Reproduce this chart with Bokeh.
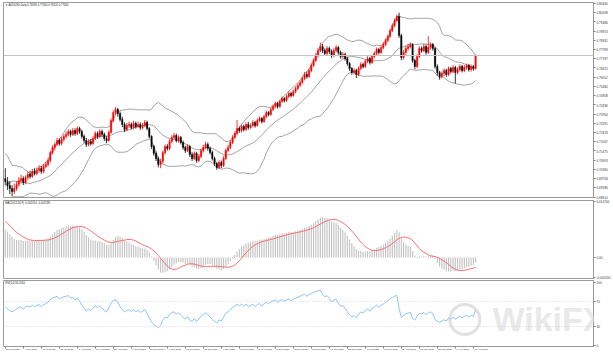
import numpy as np
import pandas as pd
from bokeh.plotting import figure
from bokeh.layouts import column
from bokeh.models import Range1d, LinearAxis, FixedTicker, Span, Label, ColumnDataSource, PrintfTickFormatter
from bokeh.embed import file_html
from bokeh.resources import INLINE

symbol = "AUDUSD,Daily"

# closes before the first visible bar (used only to start the indicators)
warmup_close = [0.6452, 0.6490, 0.6414, 0.6452, 0.6443, 0.6424, 0.6367, 0.6433, 0.6452, 0.6462,
                0.6528, 0.6538, 0.6614, 0.6585, 0.6519, 0.6538, 0.6547, 0.6509, 0.6576, 0.6604,
                0.6566, 0.6528, 0.6500, 0.6528, 0.6490, 0.6623, 0.6642, 0.6661, 0.6633, 0.6614,
                0.6642, 0.6709, 0.6699, 0.6699, 0.6737, 0.6889, 0.6975, 0.7013, 0.6984, 0.7013,
                0.7051, 0.7032, 0.7051, 0.6918, 0.6927, 0.6956, 0.6946, 0.6927, 0.6908, 0.6918,
                0.6975]

open_ = [0.6975, 0.6958, 0.6933, 0.6914, 0.6896, 0.6914, 0.6939, 0.6964, 0.6976, 0.6951,
         0.6982, 0.7001, 0.6989, 0.7020, 0.7007, 0.7026, 0.7038, 0.7020, 0.7051, 0.7063,
         0.7088, 0.7138, 0.7169, 0.7188, 0.7212, 0.7194, 0.7219, 0.7237, 0.7250, 0.7268,
         0.7250, 0.7274, 0.7256, 0.7287, 0.7268, 0.7237, 0.7212, 0.7188, 0.7206, 0.7194,
         0.7225, 0.7256, 0.7237, 0.7268, 0.7250, 0.7225, 0.7212, 0.7262, 0.7336, 0.7386,
         0.7405, 0.7380, 0.7343, 0.7312, 0.7281, 0.7305, 0.7312, 0.7293, 0.7318, 0.7299,
         0.7312, 0.7293, 0.7305, 0.7324, 0.7287, 0.7237, 0.7175, 0.7132, 0.7100, 0.7063,
         0.7082, 0.7138, 0.7175, 0.7163, 0.7206, 0.7231, 0.7243, 0.7212, 0.7231, 0.7200,
         0.7169, 0.7150, 0.7175, 0.7125, 0.7100, 0.7132, 0.7088, 0.7113, 0.7150, 0.7169,
         0.7188, 0.7163, 0.7138, 0.7100, 0.7069, 0.7045, 0.7076, 0.7057, 0.7100, 0.7150,
         0.7169, 0.7200, 0.7231, 0.7256, 0.7287, 0.7274, 0.7299, 0.7281, 0.7312, 0.7293,
         0.7305, 0.7324, 0.7305, 0.7336, 0.7349, 0.7330, 0.7361, 0.7386, 0.7374, 0.7405,
         0.7423, 0.7442, 0.7423, 0.7454, 0.7473, 0.7461, 0.7485, 0.7504, 0.7492, 0.7516,
         0.7535, 0.7554, 0.7572, 0.7597, 0.7622, 0.7610, 0.7647, 0.7678, 0.7709, 0.7740,
         0.7771, 0.7796, 0.7771, 0.7753, 0.7784, 0.7765, 0.7740, 0.7771, 0.7790, 0.7759,
         0.7734, 0.7746, 0.7721, 0.7690, 0.7659, 0.7635, 0.7647, 0.7622, 0.7659, 0.7684,
         0.7672, 0.7703, 0.7721, 0.7697, 0.7734, 0.7753, 0.7777, 0.7759, 0.7790, 0.7808,
         0.7833, 0.7858, 0.7895, 0.7926, 0.7957, 0.7982, 0.7864, 0.7728, 0.7759, 0.7784,
         0.7796, 0.7808, 0.7709, 0.7672, 0.7734, 0.7784, 0.7771, 0.7796, 0.7759, 0.7790,
         0.7808, 0.7784, 0.7672, 0.7635, 0.7610, 0.7628, 0.7647, 0.7622, 0.7659, 0.7641,
         0.7666, 0.7635, 0.7653, 0.7672, 0.7647, 0.7666, 0.7678, 0.7653, 0.7672, 0.7659]

high = [0.7040, 0.6985, 0.6960, 0.6935, 0.6945, 0.6960, 0.6985, 0.7000, 0.6990, 0.6995,
        0.7020, 0.7025, 0.7035, 0.7040, 0.7045, 0.7060, 0.7055, 0.7066, 0.7080, 0.7105,
        0.7150, 0.7182, 0.7200, 0.7230, 0.7225, 0.7235, 0.7250, 0.7268, 0.7282, 0.7280,
        0.7290, 0.7288, 0.7300, 0.7298, 0.7280, 0.7250, 0.7228, 0.7220, 0.7222, 0.7240,
        0.7270, 0.7268, 0.7282, 0.7280, 0.7262, 0.7240, 0.7275, 0.7350, 0.7400, 0.7420,
        0.7415, 0.7392, 0.7360, 0.7325, 0.7320, 0.7330, 0.7325, 0.7335, 0.7330, 0.7328,
        0.7325, 0.7320, 0.7340, 0.7336, 0.7295, 0.7245, 0.7185, 0.7145, 0.7112, 0.7098,
        0.7150, 0.7188, 0.7190, 0.7220, 0.7245, 0.7260, 0.7255, 0.7245, 0.7240, 0.7212,
        0.7180, 0.7190, 0.7185, 0.7140, 0.7145, 0.7142, 0.7128, 0.7162, 0.7185, 0.7205,
        0.7200, 0.7175, 0.7150, 0.7112, 0.7080, 0.7090, 0.7088, 0.7115, 0.7162, 0.7185,
        0.7215, 0.7245, 0.7270, 0.7340, 0.7300, 0.7312, 0.7310, 0.7325, 0.7328, 0.7318,
        0.7338, 0.7335, 0.7350, 0.7362, 0.7358, 0.7372, 0.7398, 0.7395, 0.7418, 0.7436,
        0.7455, 0.7452, 0.7466, 0.7486, 0.7482, 0.7498, 0.7518, 0.7515, 0.7528, 0.7548,
        0.7568, 0.7585, 0.7610, 0.7638, 0.7640, 0.7660, 0.7692, 0.7722, 0.7755, 0.7785,
        0.7820, 0.7812, 0.7785, 0.7798, 0.7795, 0.7778, 0.7785, 0.7805, 0.7800, 0.7770,
        0.7762, 0.7758, 0.7732, 0.7700, 0.7668, 0.7662, 0.7658, 0.7672, 0.7698, 0.7695,
        0.7715, 0.7735, 0.7732, 0.7746, 0.7766, 0.7790, 0.7788, 0.7802, 0.7822, 0.7846,
        0.7870, 0.7908, 0.7940, 0.7970, 0.7995, 0.8007, 0.7875, 0.7775, 0.7798, 0.7812,
        0.7822, 0.7815, 0.7720, 0.7748, 0.7798, 0.7796, 0.7812, 0.7808, 0.7860, 0.7822,
        0.7818, 0.7792, 0.7685, 0.7645, 0.7642, 0.7660, 0.7658, 0.7672, 0.7670, 0.7680,
        0.7676, 0.7668, 0.7686, 0.7682, 0.7680, 0.7690, 0.7688, 0.7685, 0.7682, 0.7746]

low = [0.6935, 0.6905, 0.6880, 0.6865, 0.6880, 0.6900, 0.6925, 0.6945, 0.6935, 0.6940,
       0.6968, 0.6975, 0.6980, 0.6995, 0.6996, 0.7012, 0.7005, 0.7010, 0.7040, 0.7050,
       0.7075, 0.7125, 0.7150, 0.7175, 0.7180, 0.7182, 0.7205, 0.7225, 0.7238, 0.7235,
       0.7240, 0.7242, 0.7245, 0.7255, 0.7225, 0.7198, 0.7172, 0.7176, 0.7180, 0.7185,
       0.7215, 0.7222, 0.7228, 0.7236, 0.7210, 0.7195, 0.7205, 0.7255, 0.7325, 0.7370,
       0.7360, 0.7330, 0.7295, 0.7265, 0.7270, 0.7290, 0.7280, 0.7282, 0.7286, 0.7290,
       0.7278, 0.7282, 0.7296, 0.7275, 0.7225, 0.7160, 0.7118, 0.7085, 0.7045, 0.7040,
       0.7070, 0.7125, 0.7150, 0.7152, 0.7195, 0.7220, 0.7200, 0.7198, 0.7188, 0.7155,
       0.7135, 0.7140, 0.7110, 0.7085, 0.7090, 0.7075, 0.7078, 0.7102, 0.7138, 0.7158,
       0.7150, 0.7125, 0.7088, 0.7055, 0.7030, 0.7035, 0.7040, 0.7048, 0.7090, 0.7138,
       0.7158, 0.7190, 0.7220, 0.7245, 0.7260, 0.7262, 0.7268, 0.7272, 0.7280, 0.7285,
       0.7295, 0.7292, 0.7298, 0.7325, 0.7318, 0.7322, 0.7350, 0.7362, 0.7366, 0.7395,
       0.7412, 0.7410, 0.7415, 0.7445, 0.7448, 0.7452, 0.7476, 0.7480, 0.7484, 0.7505,
       0.7525, 0.7545, 0.7562, 0.7585, 0.7596, 0.7600, 0.7635, 0.7668, 0.7698, 0.7728,
       0.7760, 0.7755, 0.7738, 0.7742, 0.7750, 0.7725, 0.7730, 0.7760, 0.7745, 0.7720,
       0.7722, 0.7708, 0.7676, 0.7645, 0.7620, 0.7622, 0.7600, 0.7612, 0.7648, 0.7660,
       0.7662, 0.7692, 0.7684, 0.7688, 0.7722, 0.7742, 0.7746, 0.7750, 0.7778, 0.7798,
       0.7822, 0.7848, 0.7885, 0.7915, 0.7948, 0.7850, 0.7712, 0.7715, 0.7745, 0.7770,
       0.7785, 0.7695, 0.7655, 0.7662, 0.7725, 0.7758, 0.7760, 0.7745, 0.7750, 0.7776,
       0.7770, 0.7658, 0.7615, 0.7590, 0.7598, 0.7612, 0.7608, 0.7612, 0.7628, 0.7630,
       0.7566, 0.7622, 0.7640, 0.7635, 0.7636, 0.7652, 0.7640, 0.7640, 0.7645, 0.7652]

close = [0.6958, 0.6933, 0.6914, 0.6896, 0.6914, 0.6939, 0.6964, 0.6976, 0.6951, 0.6982,
         0.7001, 0.6989, 0.7020, 0.7007, 0.7026, 0.7038, 0.7020, 0.7051, 0.7063, 0.7088,
         0.7138, 0.7169, 0.7188, 0.7212, 0.7194, 0.7219, 0.7237, 0.7250, 0.7268, 0.7250,
         0.7274, 0.7256, 0.7287, 0.7268, 0.7237, 0.7212, 0.7188, 0.7206, 0.7194, 0.7225,
         0.7256, 0.7237, 0.7268, 0.7250, 0.7225, 0.7212, 0.7262, 0.7336, 0.7386, 0.7405,
         0.7380, 0.7343, 0.7312, 0.7281, 0.7305, 0.7312, 0.7293, 0.7318, 0.7299, 0.7312,
         0.7293, 0.7305, 0.7324, 0.7287, 0.7237, 0.7175, 0.7132, 0.7100, 0.7063, 0.7082,
         0.7138, 0.7175, 0.7163, 0.7206, 0.7231, 0.7243, 0.7212, 0.7231, 0.7200, 0.7169,
         0.7150, 0.7175, 0.7125, 0.7100, 0.7132, 0.7088, 0.7113, 0.7150, 0.7169, 0.7188,
         0.7163, 0.7138, 0.7100, 0.7069, 0.7045, 0.7076, 0.7057, 0.7100, 0.7150, 0.7169,
         0.7200, 0.7231, 0.7256, 0.7287, 0.7274, 0.7299, 0.7281, 0.7312, 0.7293, 0.7305,
         0.7324, 0.7305, 0.7336, 0.7349, 0.7330, 0.7361, 0.7386, 0.7374, 0.7405, 0.7423,
         0.7442, 0.7423, 0.7454, 0.7473, 0.7461, 0.7485, 0.7504, 0.7492, 0.7516, 0.7535,
         0.7554, 0.7572, 0.7597, 0.7622, 0.7610, 0.7647, 0.7678, 0.7709, 0.7740, 0.7771,
         0.7796, 0.7771, 0.7753, 0.7784, 0.7765, 0.7740, 0.7771, 0.7790, 0.7759, 0.7734,
         0.7746, 0.7721, 0.7690, 0.7659, 0.7635, 0.7647, 0.7622, 0.7659, 0.7684, 0.7672,
         0.7703, 0.7721, 0.7697, 0.7734, 0.7753, 0.7777, 0.7759, 0.7790, 0.7808, 0.7833,
         0.7858, 0.7895, 0.7926, 0.7957, 0.7982, 0.7864, 0.7728, 0.7759, 0.7784, 0.7796,
         0.7808, 0.7709, 0.7672, 0.7734, 0.7784, 0.7771, 0.7796, 0.7759, 0.7790, 0.7808,
         0.7784, 0.7672, 0.7635, 0.7610, 0.7628, 0.7647, 0.7622, 0.7659, 0.7641, 0.7666,
         0.7635, 0.7653, 0.7672, 0.7647, 0.7666, 0.7678, 0.7653, 0.7672, 0.7659, 0.7740]

date_labels = ["23 Jun 2020", "3 Jul 2020", "15 Jul 2020", "27 Jul 2020", "6 Aug 2020",
               "18 Aug 2020", "28 Aug 2020", "9 Sep 2020", "21 Sep 2020", "1 Oct 2020",
               "13 Oct 2020", "23 Oct 2020", "4 Nov 2020", "16 Nov 2020", "26 Nov 2020",
               "8 Dec 2020", "18 Dec 2020", "31 Dec 2020", "13 Jan 2021", "25 Jan 2021",
               "4 Feb 2021", "16 Feb 2021", "26 Feb 2021", "10 Mar 2021", "22 Mar 2021",
               "1 Apr 2021", "13 Apr 2021"]
date_step = 8

price_ticks = [0.80630, 0.80058, 0.79486, 0.78913, 0.78341, 0.77769, 0.77197, 0.76625,
               0.76052, 0.75480, 0.74908, 0.74336, 0.73764, 0.73191, 0.72619, 0.72047,
               0.71475, 0.70903, 0.70330, 0.69758, 0.69186, 0.68614]
macd_ticks = [0.0147, 0.0, -0.0052]
macd_tick_labels = ["0.014700", "0.00", "-0.005200"]
rsi_ticks = [100, 70, 30, 0]
rsi_levels = [70, 30]

# ---------------- indicators ----------------
n = len(close)
idx = np.arange(n)
full = pd.Series(warmup_close + close, dtype=float)
m = len(warmup_close)

mid = full.rolling(20).mean()
sd = full.rolling(20).std(ddof=0)
bb_mid = mid.values[m:]
bb_up = (mid + 2 * sd).values[m:]
bb_dn = (mid - 2 * sd).values[m:]

ema12 = full.ewm(span=12, adjust=False).mean()
ema26 = full.ewm(span=26, adjust=False).mean()
macd_full = ema12 - ema26
sig_full = macd_full.rolling(9).mean()
macd_main = macd_full.values[m:]
macd_sig = sig_full.values[m:]

arr = full.values
d = np.diff(arr, prepend=arr[0])
gain = np.clip(d, 0, None)
loss = np.clip(-d, 0, None)
ag = np.full(len(arr), np.nan)
al = np.full(len(arr), np.nan)
ag[14] = gain[1:15].mean()
al[14] = loss[1:15].mean()
for i in range(15, len(arr)):
    ag[i] = (ag[i - 1] * 13 + gain[i]) / 14
    al[i] = (al[i - 1] * 13 + loss[i]) / 14
rsi_full = 100 - 100 / (1 + ag / al)
rsi = rsi_full[m:]

# ---------------- styling helpers ----------------
FONT = "Liberation Sans"
FS = "3.1px"      # axis value labels
FS_T = "2.7px"    # panel captions
W = 613
xr = Range1d(-0.8, 261.4)
FRAME = "#9a9a9a"


def make(h, yr, top, bottom):
    p = figure(width=W, height=h, x_range=xr, y_range=yr, output_backend="svg",
               toolbar_location=None, x_axis_location=None, y_axis_location=None,
               min_border_left=3, min_border_right=16, min_border_top=top,
               min_border_bottom=bottom)
    p.grid.visible = False
    p.outline_line_color = FRAME
    p.outline_line_width = 1
    p.background_fill_color = "white"
    p.border_fill_color = "white"
    return p


def style_axis(ax):
    ax.axis_line_color = FRAME
    ax.major_tick_line_color = "#808080"
    ax.major_tick_out = 2
    ax.major_tick_in = 0
    ax.minor_tick_line_color = None
    ax.major_label_text_font = FONT
    ax.major_label_text_font_size = FS
    ax.major_label_text_color = "#333333"
    ax.major_label_standoff = 1


# ---------------- main price panel ----------------
p1 = make(199, Range1d(0.68583, 0.80692), 2, 2)
ax1 = LinearAxis(ticker=FixedTicker(ticks=price_ticks), formatter=PrintfTickFormatter(format="%.5f"))
style_axis(ax1)
p1.add_layout(ax1, "right")

bull = [c >= o for o, c in zip(open_, close)]
cols = ["#ff0000" if b else "#000000" for b in bull]
src = ColumnDataSource(dict(x=idx, o=open_, h=high, l=low, c=close,
                            top=np.maximum(open_, close), bot=np.minimum(open_, close),
                            col=cols))

p1.line(idx, bb_up, line_color="#8c8c8c", line_width=0.8)
p1.line(idx, bb_mid, line_color="#8c8c8c", line_width=0.8)
p1.line(idx, bb_dn, line_color="#8c8c8c", line_width=0.8)
p1.add_layout(Span(location=close[-1], dimension="width", line_color="#c4c4c4", line_width=1))
p1.segment(x0="x", y0="l", x1="x", y1="h", line_color="col", line_width=0.8, source=src)
p1.vbar(x="x", top="top", bottom="bot", width=0.62, fill_color="col", line_color="col",
        line_width=0.4, source=src)

title_txt = "\u25bc %s %.5f %.5f %.5f %.5f" % (symbol, open_[-1], high[-1], low[-1], close[-1])
p1.add_layout(Label(x=xr.start + 0.8, y=0.80692, text=title_txt, text_font=FONT,
                    text_font_size=FS_T, text_color="#222222", text_baseline="top", y_offset=-1))
p1.add_layout(Label(x=xr.end, y=close[-1], text="%.5f" % close[-1], text_font=FONT,
                    text_font_size=FS, text_color="white", text_baseline="middle",
                    background_fill_color="black", x_offset=1))

# ---------------- MACD panel ----------------
p2 = make(80, Range1d(-0.00553, 0.0150), 1, 1)
ax2 = LinearAxis(ticker=FixedTicker(ticks=macd_ticks),
                 major_label_overrides={t: s for t, s in zip(macd_ticks, macd_tick_labels)})
style_axis(ax2)
p2.add_layout(ax2, "right")
p2.vbar(x=idx, top=macd_main, bottom=0, width=0.5, fill_color="#c3c3c3", line_color=None)
p2.line(idx, macd_sig, line_color="#ff6060", line_width=0.9)
p2.add_layout(Label(x=xr.start + 0.8, y=0.0150,
                    text="MACD(12,26,9) %.6f %.6f" % (macd_main[-1], macd_sig[-1]),
                    text_font=FONT, text_font_size=FS_T, text_color="#222222",
                    text_baseline="top", y_offset=-1))

# ---------------- RSI panel ----------------
RSI_LO, RSI_HI = -1.59, 103.17
p3 = make(75, Range1d(RSI_LO, RSI_HI), 1, 8)
ax3 = LinearAxis(ticker=FixedTicker(ticks=rsi_ticks))
style_axis(ax3)
p3.add_layout(ax3, "right")

# date axis: label texts centred just right of each date tick (MT4 style)
date_pos = [i * date_step for i in range(len(date_labels))]
label_shift = 3.4
label_pos = [pos + label_shift for pos in date_pos]
ax_dates = LinearAxis(ticker=FixedTicker(ticks=label_pos, minor_ticks=date_pos),
                      major_label_overrides={lp: lab for lp, lab in zip(label_pos, date_labels)})
style_axis(ax_dates)
ax_dates.major_tick_line_color = None
ax_dates.minor_tick_line_color = "#808080"
ax_dates.minor_tick_out = 2
ax_dates.minor_tick_in = 0
ax_dates.major_label_text_font_size = "2.5px"
ax_dates.major_label_standoff = 0
p3.add_layout(ax_dates, "below")

# watermark
p3.scatter(x=[204.2], y=[41.3], marker="circle", size=30, fill_color=None,
           line_color="#e2e2e2", line_width=3)
p3.add_layout(Label(x=216.5, y=41.3, text="WikiFX", text_font=FONT, text_font_size="34px",
                    text_font_style="bold", text_color="#e4e4e4", text_alpha=0.8,
                    text_baseline="middle"))

for lv in rsi_levels:
    p3.add_layout(Span(location=lv, dimension="width", line_color="#c8c8c8",
                       line_width=0.8, line_dash="1 2"))
p3.line(idx, rsi, line_color="#8ec2f5", line_width=1)
p3.add_layout(Label(x=xr.start + 0.8, y=RSI_HI, text="RSI(14) %.4f" % rsi[-1],
                    text_font=FONT, text_font_size=FS_T, text_color="#222222",
                    text_baseline="top", y_offset=-1))

layout = column(p1, p2, p3, spacing=0)
open("out.html", "w").write(file_html(layout, INLINE))
